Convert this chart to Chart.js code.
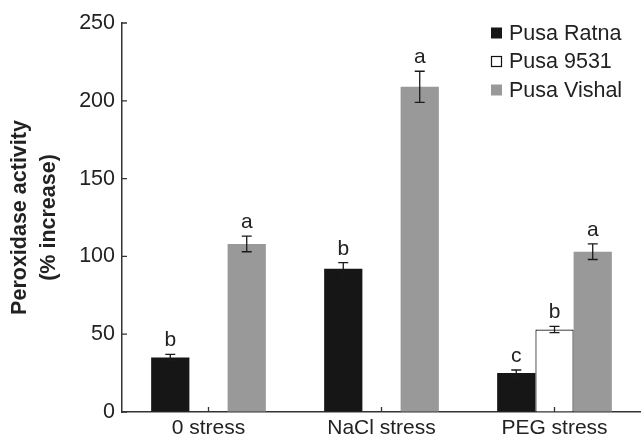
<!DOCTYPE html>
<html><head><meta charset="utf-8">
<script src="https://cdn.jsdelivr.net/npm/chart.js@4/dist/chart.umd.min.js"></script>
<style>html,body{margin:0;padding:0;background:#fff}#wrap{width:641px;height:440px}</style>
</head><body><div id="wrap"><canvas id="c" width="641" height="440"></canvas></div>
<script>
const categories = ['0 stress', 'NaCl stress', 'PEG stress'];
const seriesNames = ['Pusa Ratna', 'Pusa 9531', 'Pusa Vishal'];
const ratna = [35, 92, 25];
const p9531 = [0, 0, 53];
const vishal = [108, 209, 103];
const ratnaErr = [2, 4, 2];
const p9531Err = [0, 0, 2];
const vishalErr = [5, 10, 5];
const ratnaSig = ['b', 'b', 'c'];
const p9531Sig = ['', '', 'b'];
const vishalSig = ['a', 'a', 'a'];
const yTicks = [0, 50, 100, 150, 200, 250];
const yTitle = ['Peroxidase activity', '(% increase)'];

const FONT = "'Liberation Sans', Arial, Helvetica, sans-serif";
const TXT = '#222222';
const errs = [ratnaErr, p9531Err, vishalErr];
const sigs = [ratnaSig, p9531Sig, vishalSig];

const extrasPlugin = {
  id: 'extras',
  afterDatasetsDraw(chart) {
    const ctx = chart.ctx;
    const ys = chart.scales.y, xs = chart.scales.x;
    ctx.save();
    chart.data.datasets.forEach((ds, i) => {
      const meta = chart.getDatasetMeta(i);
      meta.data.forEach((el, j) => {
        const v = ds.data[j], e = errs[i][j];
        if (!v) return;
        const x = el.x;
        const yt = ys.getPixelForValue(v + e), yb = ys.getPixelForValue(v - e);
        ctx.strokeStyle = '#1a1a1a';
        ctx.lineWidth = 1.3;
        ctx.beginPath();
        ctx.moveTo(x, yt); ctx.lineTo(x, yb);
        ctx.moveTo(x - 5, yt); ctx.lineTo(x + 5, yt);
        ctx.moveTo(x - 5, yb); ctx.lineTo(x + 5, yb);
        ctx.stroke();
        const s = sigs[i][j];
        if (s) {
          ctx.fillStyle = TXT;
          ctx.font = '21px ' + FONT;
          ctx.textAlign = 'center';
          ctx.textBaseline = 'alphabetic';
          ctx.fillText(s, x, yt - 8);
        }
      });
    });
    ctx.strokeStyle = '#333';
    ctx.lineWidth = 1.3;
    ctx.beginPath();
    yTicks.forEach(t => {
      const y = ys.getPixelForValue(t);
      ctx.moveTo(xs.left, y); ctx.lineTo(xs.left + 5, y);
    });
    categories.forEach((c, i) => {
      const x = xs.getPixelForTick(i);
      ctx.moveTo(x, ys.bottom); ctx.lineTo(x, ys.bottom - 5);
    });
    ctx.stroke();
    const lx = 491, ly = [33, 61.5, 90];
    chart.data.datasets.forEach((ds, i) => {
      const y = ly[i];
      ctx.fillStyle = ds.backgroundColor;
      ctx.fillRect(lx, y - 5.5, 11, 11);
      if (i === 1) {
        ctx.strokeStyle = '#111';
        ctx.lineWidth = 1.2;
        ctx.strokeRect(lx + 0.5, y - 5, 10, 10);
      }
      ctx.fillStyle = TXT;
      ctx.font = '21.5px ' + FONT;
      ctx.textAlign = 'left';
      ctx.textBaseline = 'middle';
      ctx.fillText(ds.label, 509, y + 1);
    });
    ctx.restore();
  }
};

new Chart(document.getElementById('c'), {
  type: 'bar',
  data: {
    labels: categories,
    datasets: [
      { label: seriesNames[0], data: ratna, backgroundColor: '#161616', borderWidth: 0 },
      { label: seriesNames[1], data: p9531, backgroundColor: '#ffffff', borderColor: '#111111',
        borderWidth: c => (c.raw > 0 ? 1.2 : 0), borderSkipped: 'bottom' },
      { label: seriesNames[2], data: vishal, backgroundColor: '#999999', borderWidth: 0 }
    ]
  },
  options: {
    responsive: false,
    animation: false,
    devicePixelRatio: 1,
    layout: { padding: { top: 23, right: 0, bottom: 0, left: 0 } },
    barPercentage: 1,
    categoryPercentage: 0.663,
    plugins: { legend: { display: false }, tooltip: { enabled: false } },
    scales: {
      x: {
        afterFit: s => { s.height = 28; },
        grid: { display: true, drawOnChartArea: false, drawTicks: false },
        border: { display: true, color: '#333', width: 1.5 },
        ticks: { color: TXT, font: { family: FONT, size: 21 }, padding: 4, maxRotation: 0 }
      },
      y: {
        min: 0, max: 250,
        afterFit: s => { s.width = 122; },
        afterBuildTicks: s => { s.ticks = yTicks.map(v => ({ value: v })); },
        grid: { display: true, drawOnChartArea: false, drawTicks: false },
        border: { display: true, color: '#333', width: 1.5 },
        ticks: { color: TXT, font: { family: FONT, size: 21.5 }, padding: 7 },
        title: {
          display: true, text: yTitle, color: TXT,
          font: { family: FONT, size: 21.5, weight: 'bold', lineHeight: 1.35 },
          padding: { top: 6, bottom: 0 }
        }
      }
    }
  },
  plugins: [extrasPlugin]
});
</script>
</body></html>
